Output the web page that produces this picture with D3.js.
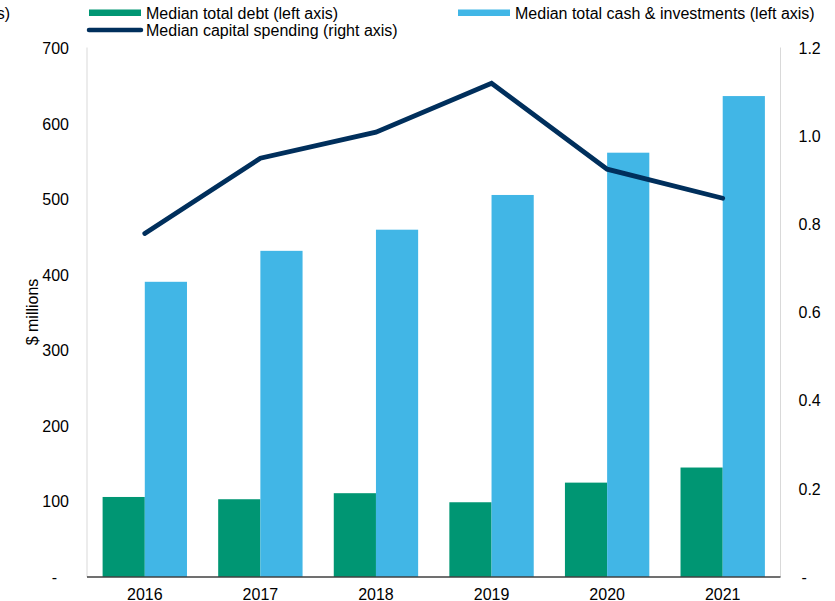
<!DOCTYPE html>
<html>
<head>
<meta charset="utf-8">
<script src="https://cdn.jsdelivr.net/npm/d3@7/dist/d3.min.js"></script>
<style>
  body { margin: 0; background: #fff; }
  svg { display: block; font-family: "Liberation Sans", Arial, sans-serif; }
</style>
</head>
<body>
<svg id="chart" width="835" height="601"></svg>
<script>
// Years on the x axis
const years = ["2016", "2017", "2018", "2019", "2020", "2021"];
// Left axis series ($ millions)
const medianDebt = [106, 103, 111, 99, 125, 145];
const medianCash = [391, 432, 460, 506, 562, 637];
// Right axis series
const medianCapex = [0.78, 0.951, 1.01, 1.121, 0.926, 0.86];
// Tick values
const leftTicks = [0, 100, 200, 300, 400, 500, 600, 700];
const rightTicks = [0, 0.2, 0.4, 0.6, 0.8, 1.0, 1.2];

const colors = { debt: "#009673", cash: "#41b6e6", capex: "#002f5c" };

const svg = d3.select("#chart");
const plot = { left: 87, right: 780.5, top: 48.5, bottom: 577 };

const x0 = d3.scaleBand().domain(years)
  .range([plot.left, plot.right]).paddingInner(0.27).paddingOuter(0.135);
const x1 = d3.scaleBand().domain(["debt", "cash"]).range([0, x0.bandwidth()]);
const yL = d3.scaleLinear().domain([0, 700]).range([plot.bottom, plot.top]);
const yR = d3.scaleLinear().domain([0, 1.2]).range([plot.bottom, plot.top]);

// Side frame lines
svg.append("line").attr("x1", plot.left).attr("x2", plot.left)
  .attr("y1", plot.top - 1).attr("y2", plot.bottom)
  .attr("stroke", "#d9d9d9").attr("stroke-width", 1);
svg.append("line").attr("x1", plot.right).attr("x2", plot.right)
  .attr("y1", plot.top - 1).attr("y2", plot.bottom)
  .attr("stroke", "#d9d9d9").attr("stroke-width", 1);

// Bars
const rows = years.map((yr, i) => ({ year: yr, debt: medianDebt[i], cash: medianCash[i] }));
const groups = svg.append("g").selectAll("g").data(rows).join("g")
  .attr("transform", d => `translate(${x0(d.year)},0)`);
groups.selectAll("rect")
  .data(d => ["debt", "cash"].map(k => ({ key: k, value: d[k] })))
  .join("rect")
  .attr("x", d => x1(d.key))
  .attr("width", x1.bandwidth())
  .attr("y", d => yL(d.value))
  .attr("height", d => yL(0) - yL(d.value))
  .attr("fill", d => colors[d.key]);

// Baseline
svg.append("line").attr("x1", plot.left).attr("x2", plot.right)
  .attr("y1", plot.bottom).attr("y2", plot.bottom)
  .attr("stroke", "#404040").attr("stroke-width", 1.3);

// Capital spending line
const line = d3.line()
  .x((d, i) => x0(years[i]) + x0.bandwidth() / 2)
  .y(d => yR(d));
svg.append("path").datum(medianCapex)
  .attr("d", line)
  .attr("fill", "none")
  .attr("stroke", colors.capex)
  .attr("stroke-width", 4.8)
  .attr("stroke-linecap", "round")
  .attr("stroke-linejoin", "miter");

// Axes
const fmtL = v => v === 0 ? "-" : d3.format("d")(v);
const fmtR = v => v === 0 ? "-" : d3.format(".1f")(v);

const axL = svg.append("g").attr("transform", `translate(${plot.left},0)`)
  .call(d3.axisLeft(yL).tickValues(leftTicks).tickFormat(fmtL).tickSize(0).tickPadding(18));
axL.select(".domain").remove();
axL.selectAll("text").attr("font-size", 16).attr("fill", "#000")
  .attr("font-family", "Liberation Sans, Arial, sans-serif");
axL.selectAll(".tick").filter(d => d === 0).select("text").attr("dx", -12);

const axR = svg.append("g").attr("transform", `translate(${plot.right},0)`)
  .call(d3.axisRight(yR).tickValues(rightTicks).tickFormat(fmtR).tickSize(0).tickPadding(18));
axR.select(".domain").remove();
axR.selectAll("text").attr("font-size", 16).attr("fill", "#000")
  .attr("font-family", "Liberation Sans, Arial, sans-serif");
axR.selectAll(".tick").filter(d => d === 0).select("text").attr("dx", 3);

const axB = svg.append("g").attr("transform", `translate(0,${plot.bottom})`)
  .call(d3.axisBottom(x0).tickSize(0).tickPadding(12));
axB.select(".domain").remove();
axB.selectAll("text").attr("font-size", 16).attr("fill", "#000")
  .attr("font-family", "Liberation Sans, Arial, sans-serif");

// Left axis title
svg.append("text")
  .attr("transform", "translate(38,312) rotate(-90)")
  .attr("text-anchor", "middle")
  .attr("font-size", 16)
  .text("$ millions");

// Right axis title (runs off the left edge)
svg.append("text")
  .attr("x", 10).attr("y", 19)
  .attr("text-anchor", "end")
  .attr("font-size", 16)
  .text("($ billions)");

// Legend
const legend = svg.append("g");
legend.append("rect").attr("x", 89).attr("y", 9.5).attr("width", 52).attr("height", 6.5)
  .attr("fill", colors.debt);
legend.append("text").attr("x", 146).attr("y", 19).attr("font-size", 16)
  .text("Median total debt (left axis)");
legend.append("line").attr("x1", 89).attr("x2", 141).attr("y1", 30).attr("y2", 30)
  .attr("stroke", colors.capex).attr("stroke-width", 4.5).attr("stroke-linecap", "round");
legend.append("text").attr("x", 146).attr("y", 36).attr("font-size", 16)
  .text("Median capital spending (right axis)");
legend.append("rect").attr("x", 458).attr("y", 9.5).attr("width", 52).attr("height", 6.5)
  .attr("fill", colors.cash);
legend.append("text").attr("x", 515).attr("y", 19).attr("font-size", 16)
  .text("Median total cash & investments (left axis)");
</script>
</body>
</html>
